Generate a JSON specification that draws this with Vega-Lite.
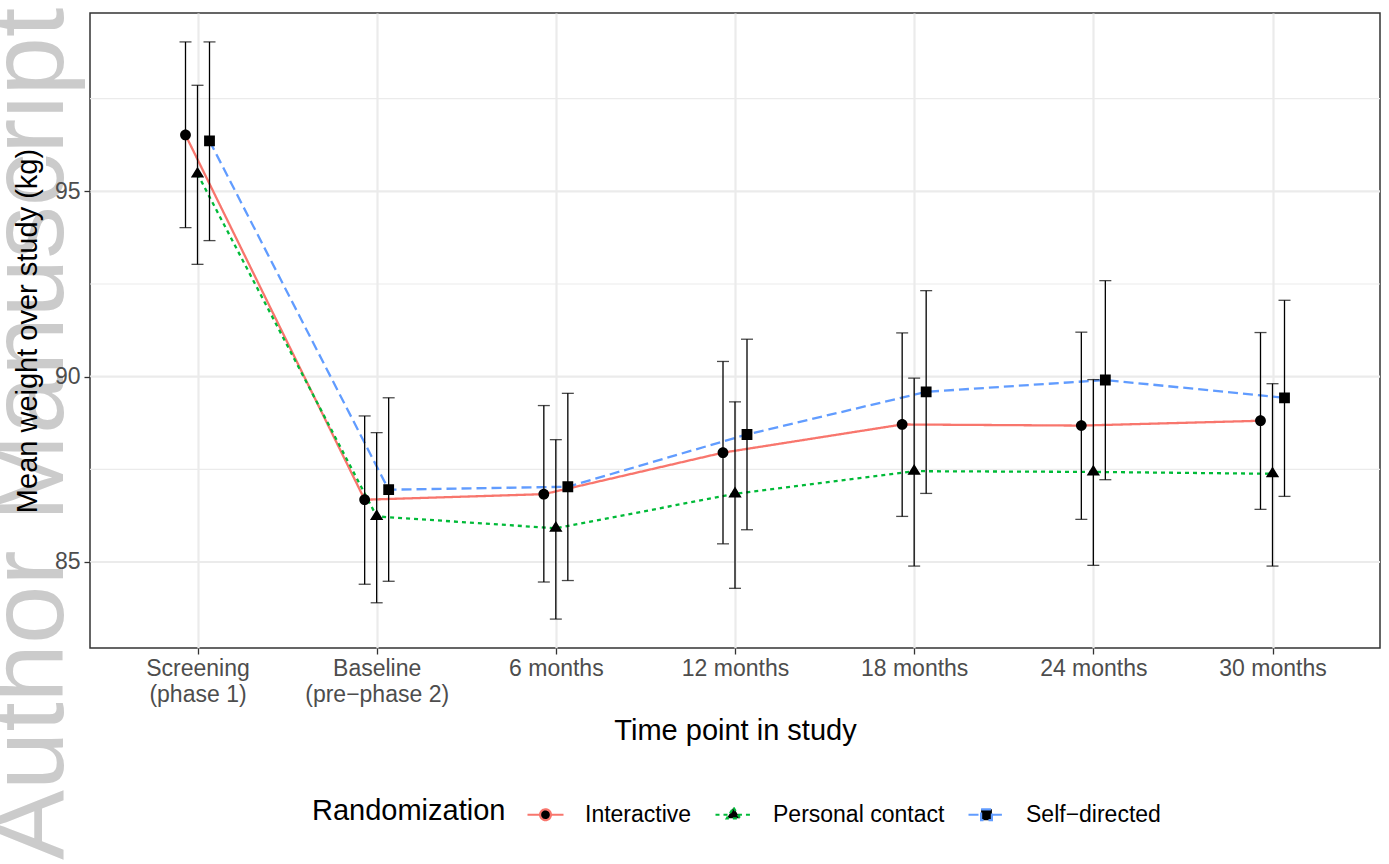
{
  "$schema": "https://vega.github.io/schema/vega-lite/v6.json",
  "autosize": "none",
  "width": 1290,
  "height": 635,
  "padding": {"left": 90, "top": 13, "right": 9, "bottom": 216},
  "background": "white",
  "title": {
    "text": "Author Manuscript",
    "orient": "left",
    "anchor": "start",
    "frame": "group",
    "font": "Liberation Sans",
    "fontSize": 105,
    "fontWeight": "normal",
    "color": "#cbcbcb",
    "offset": 0,
    "dx": -212,
    "dy": 72,
    "zindex": 0
  },
  "config": {
    "font": "Liberation Sans",
    "view": {"stroke": "#333333", "strokeWidth": 1.5}
  },
  "data": {
    "values": [
      {"time": "Screening\n(phase 1)", "group": "Interactive", "mean": 96.52, "lo": 94.02, "hi": 99.03},
      {"time": "Screening\n(phase 1)", "group": "Personal contact", "mean": 95.47, "lo": 93.03, "hi": 97.86},
      {"time": "Screening\n(phase 1)", "group": "Self−directed", "mean": 96.36, "lo": 93.67, "hi": 99.03},
      {"time": "Baseline\n(pre−phase 2)", "group": "Interactive", "mean": 86.68, "lo": 84.40, "hi": 88.94},
      {"time": "Baseline\n(pre−phase 2)", "group": "Personal contact", "mean": 86.23, "lo": 83.90, "hi": 88.49},
      {"time": "Baseline\n(pre−phase 2)", "group": "Self−directed", "mean": 86.95, "lo": 84.48, "hi": 89.43},
      {"time": "6 months", "group": "Interactive", "mean": 86.83, "lo": 84.46, "hi": 89.22},
      {"time": "6 months", "group": "Personal contact", "mean": 85.91, "lo": 83.46, "hi": 88.30},
      {"time": "6 months", "group": "Self−directed", "mean": 87.03, "lo": 84.50, "hi": 89.55},
      {"time": "12 months", "group": "Interactive", "mean": 87.95, "lo": 85.49, "hi": 90.41},
      {"time": "12 months", "group": "Personal contact", "mean": 86.84, "lo": 84.29, "hi": 89.32},
      {"time": "12 months", "group": "Self−directed", "mean": 88.44, "lo": 85.87, "hi": 91.01},
      {"time": "18 months", "group": "Interactive", "mean": 88.71, "lo": 86.23, "hi": 91.18},
      {"time": "18 months", "group": "Personal contact", "mean": 87.45, "lo": 84.89, "hi": 89.96},
      {"time": "18 months", "group": "Self−directed", "mean": 89.59, "lo": 86.85, "hi": 92.32},
      {"time": "24 months", "group": "Interactive", "mean": 88.68, "lo": 86.15, "hi": 91.20},
      {"time": "24 months", "group": "Personal contact", "mean": 87.43, "lo": 84.91, "hi": 89.92},
      {"time": "24 months", "group": "Self−directed", "mean": 89.91, "lo": 87.22, "hi": 92.59},
      {"time": "30 months", "group": "Interactive", "mean": 88.81, "lo": 86.42, "hi": 91.19},
      {"time": "30 months", "group": "Personal contact", "mean": 87.38, "lo": 84.89, "hi": 89.81},
      {"time": "30 months", "group": "Self−directed", "mean": 89.43, "lo": 86.77, "hi": 92.06}
    ]
  },
  "encoding": {
    "x": {
      "field": "time",
      "type": "nominal",
      "sort": null,
      "scale": {
        "type": "point",
        "padding": 0.6,
        "domain": ["Screening\n(phase 1)", "Baseline\n(pre−phase 2)", "6 months", "12 months", "18 months", "24 months", "30 months"]
      },
      "axis": {
        "title": "Time point in study",
        "titleFontSize": 29,
        "titleFontWeight": "normal",
        "titleColor": "black",
        "titlePadding": 10,
        "labelExpr": "split(datum.label, '\\n')",
        "labelAngle": 0,
        "labelFontSize": 23,
        "labelColor": "#4D4D4D",
        "labelLineHeight": 26,
        "labelPadding": 3,
        "tickSize": 6,
        "tickColor": "#333333",
        "tickWidth": 1.3,
        "domain": false,
        "grid": true,
        "gridColor": "#EBEBEB",
        "gridWidth": 2.2
      }
    },
    "xOffset": {
      "field": "group",
      "type": "nominal",
      "scale": {"type": "point", "padding": 0, "domain": ["Interactive", "Personal contact", "Self−directed"], "range": [-12, 12]}
    }
  },
  "layer": [
    {
      "data": {"values": [{"v": 87.5}, {"v": 92.5}, {"v": 97.5}]},
      "mark": {"type": "rule", "color": "#EBEBEB", "strokeWidth": 1.1},
      "encoding": {
        "x": null,
        "xOffset": null,
        "y": {"field": "v", "type": "quantitative"}
      }
    },
    {
      "data": {"values": [{"v": 85}, {"v": 90}, {"v": 95}]},
      "mark": {"type": "rule", "color": "#EBEBEB", "strokeWidth": 2.2},
      "encoding": {
        "x": null,
        "xOffset": null,
        "y": {"field": "v", "type": "quantitative"}
      }
    },
    {
      "mark": {"type": "line", "strokeWidth": 2.3},
      "encoding": {
        "y": {
          "field": "mean",
          "type": "quantitative",
          "scale": {"domain": [82.68, 99.81], "nice": false, "zero": false},
          "axis": {
            "zindex": 2,
            "title": "Mean weight over study (kg)",
            "titleFontSize": 29,
            "titleFontWeight": "normal",
            "titleColor": "black",
            "titlePadding": 12,
            "values": [85, 90, 95],
            "labelFontSize": 23,
            "labelColor": "#4D4D4D",
            "labelPadding": 4,
            "tickSize": 6,
            "tickColor": "#333333",
            "tickWidth": 1.3,
            "domain": false,
            "grid": false
          }
        },
        "color": {
          "field": "group",
          "type": "nominal",
          "scale": {"domain": ["Interactive", "Personal contact", "Self−directed"], "range": ["#F8766D", "#00BA38", "#619CFF"]},
          "legend": {
            "title": "Randomization",
            "orient": "none",
            "legendX": 222,
            "legendY": 782,
            "direction": "horizontal",
            "titleOrient": "left",
            "titleFontSize": 29,
            "titleFontWeight": "normal",
            "titleColor": "black",
            "titlePadding": 20,
            "titleBaseline": "middle",
            "titleLimit": 600,
            "labelFontSize": 23,
            "labelColor": "black",
            "labelLimit": 600,
            "labelOffset": 20,
            "columnPadding": 19,
            "symbolSize": 1296,
            "symbolStrokeWidth": 2.2,
            "symbolFillColor": "black"
          }
        },
        "strokeDash": {
          "field": "group",
          "type": "nominal",
          "scale": {"domain": ["Interactive", "Personal contact", "Self−directed"], "range": [[1, 0], [4, 4], [10, 5]]},
          "legend": {
            "title": "Randomization",
            "orient": "none",
            "legendX": 222,
            "legendY": 782,
            "direction": "horizontal",
            "titleOrient": "left"
          }
        }
      }
    },
    {
      "mark": {"type": "point", "filled": true, "color": "black", "opacity": 1, "strokeWidth": 0, "size": 1296},
      "encoding": {
        "y": {"field": "mean", "type": "quantitative"},
        "shape": {
          "field": "group",
          "type": "nominal",
          "scale": {
            "domain": ["Interactive", "Personal contact", "Self−directed"],
            "range": [
              "M-1,0L-0.3,0M0.3,0L1,0M0.3,0A0.3,0.3,0,1,1,-0.3,0A0.3,0.3,0,1,1,0.3,0Z",
              "M-1,0L-0.247,0M0.247,0L1,0M0,-0.4L0.37,0.2L-0.37,0.2Z",
              "M-1,0L-0.3,0M0.3,0L1,0M-0.3,-0.3L0.3,-0.3L0.3,0.3L-0.3,0.3Z"
            ]
          },
          "legend": {
            "title": "Randomization",
            "orient": "none",
            "legendX": 222,
            "legendY": 782,
            "direction": "horizontal",
            "titleOrient": "left"
          }
        }
      }
    },
    {
      "mark": {"type": "rule", "color": "black", "strokeWidth": 1.3},
      "encoding": {
        "y": {"field": "lo", "type": "quantitative"},
        "y2": {"field": "hi"}
      }
    },
    {
      "mark": {"type": "tick", "color": "black", "size": 12, "thickness": 1.3, "orient": "horizontal"},
      "encoding": {
        "y": {"field": "lo", "type": "quantitative"}
      }
    },
    {
      "mark": {"type": "tick", "color": "black", "size": 12, "thickness": 1.3, "orient": "horizontal"},
      "encoding": {
        "y": {"field": "hi", "type": "quantitative"}
      }
    }
  ]
}
